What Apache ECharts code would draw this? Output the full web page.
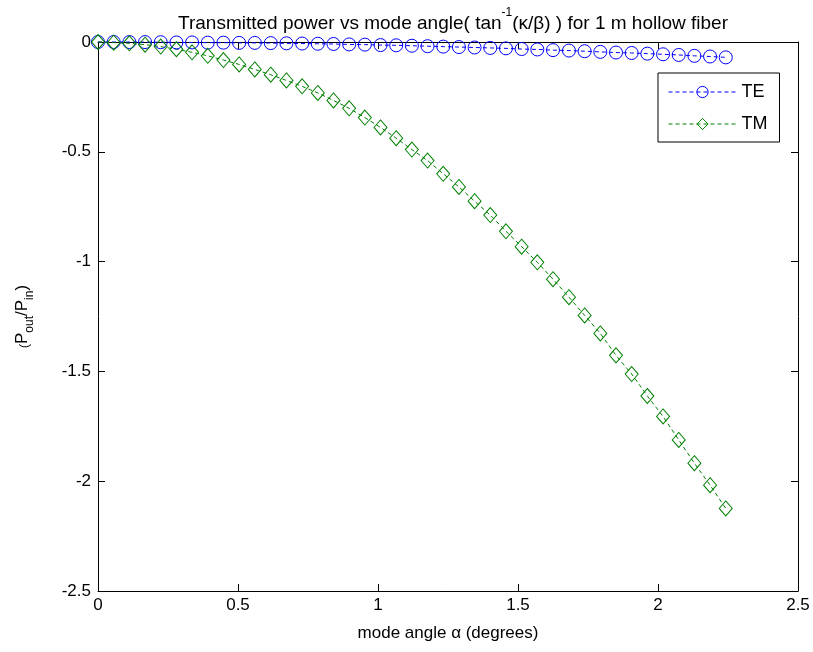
<!DOCTYPE html>
<html>
<head>
<meta charset="utf-8">
<script src="https://cdn.jsdelivr.net/npm/echarts@6/dist/echarts.min.js"></script>
<style>html,body{margin:0;padding:0;background:#fff}#c{width:813px;height:652px}</style>
</head>
<body>
<div id="c"></div>
<script>
// mode angle α (degrees)
const angles = [0, 0.056, 0.112, 0.168, 0.224, 0.280, 0.336, 0.392, 0.448, 0.504,
  0.560, 0.617, 0.673, 0.729, 0.785, 0.841, 0.897, 0.953, 1.009, 1.065,
  1.121, 1.177, 1.233, 1.289, 1.345, 1.401, 1.457, 1.513, 1.569, 1.625,
  1.682, 1.738, 1.794, 1.850, 1.906, 1.962, 2.018, 2.074, 2.130, 2.186, 2.242];
const teValues = [0, 0, -0.0003, -0.0004, -0.001, -0.002, -0.002, -0.003, -0.003, -0.004,
  -0.004, -0.005, -0.006, -0.007, -0.008, -0.009, -0.011, -0.012, -0.014, -0.015,
  -0.017, -0.019, -0.021, -0.023, -0.025, -0.027, -0.029, -0.032, -0.034, -0.037,
  -0.039, -0.042, -0.045, -0.048, -0.050, -0.053, -0.056, -0.059, -0.063, -0.066, -0.070];
const tmValues = [0, -0.003, -0.006, -0.012, -0.021, -0.033, -0.047, -0.063, -0.082, -0.102,
  -0.125, -0.149, -0.175, -0.202, -0.232, -0.266, -0.302, -0.344, -0.389, -0.438,
  -0.490, -0.540, -0.600, -0.660, -0.725, -0.788, -0.862, -0.932, -1.003, -1.080,
  -1.162, -1.245, -1.327, -1.427, -1.512, -1.612, -1.705, -1.812, -1.918, -2.018, -2.124];
const seriesNames = ['TE', 'TM'];
const xTicks = [0, 0.5, 1, 1.5, 2, 2.5];
const yTicks = [-2.5, -2, -1.5, -1, -0.5, 0];

const FONT = 'Liberation Sans';
const chart = echarts.init(document.getElementById('c'), null, {renderer: 'canvas'});
const zip = (xs, ys) => xs.map((x, i) => [x, ys[i]]);
const fmt = v => String(Math.round(v * 10) / 10);

const axisCommon = {
  axisLine: {show: true, onZero: false, lineStyle: {color: '#000', width: 1}},
  axisTick: {show: true, inside: true, length: 7, lineStyle: {color: '#000'}},
  splitLine: {show: false}
};

chart.setOption({
  animation: false,
  backgroundColor: '#fff',
  title: {
    text: '{a|Transmitted power vs mode angle( tan}{s|-1}{a|(κ/β) ) for 1 m hollow fiber}',
    left: 448, top: 2, textAlign: 'center',
    textStyle: {
      fontWeight: 'normal',
      rich: {
        a: {fontFamily: FONT, fontSize: 19, fontWeight: 'normal', color: '#000', lineHeight: 26, verticalAlign: 'bottom'},
        s: {fontFamily: FONT, fontSize: 12, fontWeight: 'normal', color: '#000', lineHeight: 26, verticalAlign: 'top'}
      }
    }
  },
  grid: {left: 98, right: 15, top: 42, bottom: 61, containLabel: false},
  legend: {
    orient: 'vertical',
    left: 658, top: 73,
    padding: [10, 12, 9, 10],
    itemGap: 14,
    itemWidth: 68, itemHeight: 14,
    borderColor: '#000', borderWidth: 1, backgroundColor: '#fff',
    textStyle: {fontFamily: FONT, fontSize: 18, color: '#000'},
    lineStyle: {width: 1, type: [4, 3]},
    itemStyle: {borderWidth: 1, color: 'rgba(255,255,255,0)'},
    data: seriesNames
  },
  xAxis: [
    Object.assign({
      type: 'value', min: 0, max: 2.5, interval: 0.5, position: 'bottom',
      axisLabel: {color: '#000', fontFamily: FONT, fontSize: 17, margin: 6, formatter: fmt},
      name: 'mode angle α (degrees)', nameLocation: 'middle', nameGap: 34,
      nameTextStyle: {color: '#000', fontFamily: FONT, fontSize: 17}
    }, axisCommon),
    Object.assign({
      type: 'value', min: 0, max: 2.5, interval: 0.5, position: 'top',
      axisLabel: {show: false}
    }, axisCommon)
  ],
  yAxis: [
    Object.assign({
      type: 'value', min: -2.5, max: 0, interval: 0.5, position: 'left',
      axisLabel: {color: '#000', fontFamily: FONT, fontSize: 17, margin: 7, formatter: fmt},
      name: '({a|P}{b|out}{a|/P}{b|in}{a|)}', nameLocation: 'middle', nameGap: 62, nameRotate: 90,
      nameTextStyle: {
        rich: {
          a: {fontFamily: FONT, fontSize: 17, color: '#000', lineHeight: 22, verticalAlign: 'top'},
          b: {fontFamily: FONT, fontSize: 12, color: '#000', lineHeight: 22, verticalAlign: 'bottom'}
        }
      }
    }, axisCommon),
    Object.assign({
      type: 'value', min: -2.5, max: 0, interval: 0.5, position: 'right',
      axisLabel: {show: false}
    }, axisCommon)
  ],
  series: [
    {
      name: seriesNames[0], type: 'line', data: zip(angles, teValues),
      xAxisIndex: 0, yAxisIndex: 0, clip: false,
      symbol: 'circle', symbolSize: 13, showAllSymbol: true,
      color: '#0000ff',
      lineStyle: {color: '#0000ff', width: 1, type: [4, 3]},
      itemStyle: {color: 'rgba(255,255,255,0)', borderColor: '#0000ff', borderWidth: 1}
    },
    {
      name: seriesNames[1], type: 'line', data: zip(angles, tmValues),
      xAxisIndex: 0, yAxisIndex: 0, clip: false,
      symbol: 'diamond', symbolSize: [13, 15], showAllSymbol: true,
      color: '#008000',
      lineStyle: {color: '#008000', width: 1, type: [4, 3]},
      itemStyle: {color: 'rgba(255,255,255,0)', borderColor: '#008000', borderWidth: 1}
    }
  ]
});
</script>
</body>
</html>
